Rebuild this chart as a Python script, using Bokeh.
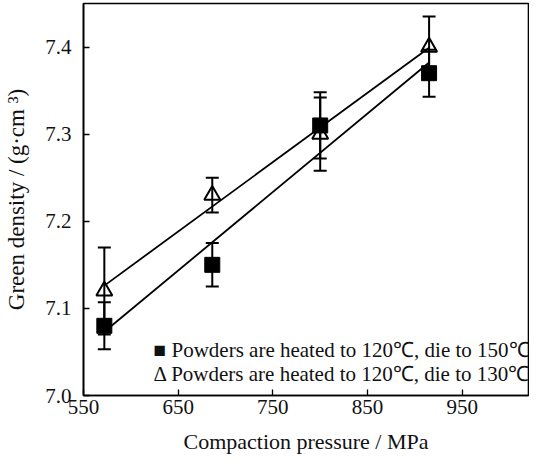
import numpy as np
from bokeh.plotting import figure
from bokeh.models import Range1d, FixedTicker, Whisker, TeeHead, ColumnDataSource, Label, NumeralTickFormatter
from bokeh.embed import file_html
from bokeh.resources import INLINE

# Data
pressure = [572, 686, 800, 915]
dens_150 = [7.08, 7.15, 7.31, 7.37]   # die 150 C (filled squares)
err_150 = [0.027, 0.025, 0.038, 0.027]
dens_130 = [7.12, 7.23, 7.30, 7.40]   # die 130 C (open triangles)
err_130 = [0.05, 0.02, 0.042, 0.035]
x_ticks = [550, 650, 750, 850, 950]
y_ticks = [7.0, 7.1, 7.2, 7.3, 7.4]
legend_150 = "\u25A0 Powders are heated to 120\u2103, die to 150\u2103"
legend_130 = "\u0394 Powders are heated to 120\u2103, die to 130\u2103"

FONT = "'Liberation Serif', 'Times New Roman', serif"

p = figure(width=529, height=460, output_backend="svg", toolbar_location=None,
           x_range=Range1d(550, 1020), y_range=Range1d(7.0, 7.45),
           min_border_left=83, min_border_top=3, min_border_right=1, min_border_bottom=65)
p.grid.visible = False
p.background_fill_color = "white"
p.border_fill_color = "white"
p.outline_line_color = "black"
p.outline_line_width = 1.6

for ax in (p.xaxis[0], p.yaxis[0]):
    ax.axis_line_color = "black"
    ax.axis_line_width = 1.6
    ax.major_tick_in = 6
    ax.major_tick_out = 0
    ax.major_tick_line_width = 1.3
    ax.minor_tick_line_color = None
    ax.major_label_text_font = FONT
    ax.major_label_text_font_size = "21px"
    ax.major_label_text_color = "#111111"
    ax.axis_label_text_font = FONT
    ax.axis_label_text_font_size = "22px"
    ax.axis_label_text_font_style = "normal"
    ax.axis_label_text_color = "#111111"

p.xaxis[0].ticker = FixedTicker(ticks=x_ticks)
p.yaxis[0].ticker = FixedTicker(ticks=y_ticks)
p.yaxis[0].formatter = NumeralTickFormatter(format="0.0")
p.xaxis[0].axis_label = "Compaction pressure / MPa"
p.yaxis[0].axis_label = "Green density / (g\u00B7cm \u00B3)"
p.yaxis[0].axis_label_text_font_size = "23px"
p.xaxis[0].major_label_standoff = 4
p.xaxis[0].axis_label_standoff = 12
p.yaxis[0].major_label_standoff = 12
p.yaxis[0].axis_label_standoff = 13

# linear fits through each series
def fit(xs, ys):
    k, b = np.polyfit(xs, ys, 1)
    xx = np.array([min(xs), max(xs)], dtype=float)
    return xx, k * xx + b

fx, fy = fit(pressure, dens_130)
p.line(fx, fy, line_color="black", line_width=1.8)
fx, fy = fit(pressure, dens_150)
p.line(fx, fy, line_color="black", line_width=1.8)

src150 = ColumnDataSource(dict(x=pressure, y=dens_150,
                               lo=[a - e for a, e in zip(dens_150, err_150)],
                               hi=[a + e for a, e in zip(dens_150, err_150)]))
src130 = ColumnDataSource(dict(x=pressure, y=dens_130,
                               lo=[a - e for a, e in zip(dens_130, err_130)],
                               hi=[a + e for a, e in zip(dens_130, err_130)]))

for src in (src150, src130):
    w = Whisker(source=src, base="x", lower="lo", upper="hi", dimension="height",
                line_color="black", line_width=2,
                upper_head=TeeHead(size=13, line_color="black", line_width=2),
                lower_head=TeeHead(size=13, line_color="black", line_width=2))
    p.add_layout(w)

p.scatter("x", "y", source=src130, marker="triangle", size=16,
          fill_alpha=0, line_color="black", line_width=2)
p.scatter("x", "y", source=src150, marker="square", size=15,
          fill_color="black", line_color="black")

p.add_layout(Label(x=624, y=7.052, text=legend_150, text_font=FONT,
                   text_font_size="21px", text_color="#111111", text_baseline="alphabetic"))
p.add_layout(Label(x=624, y=7.025, text=legend_130, text_font=FONT,
                   text_font_size="21px", text_color="#111111", text_baseline="alphabetic"))

open("out.html", "w").write(file_html(p, INLINE))
